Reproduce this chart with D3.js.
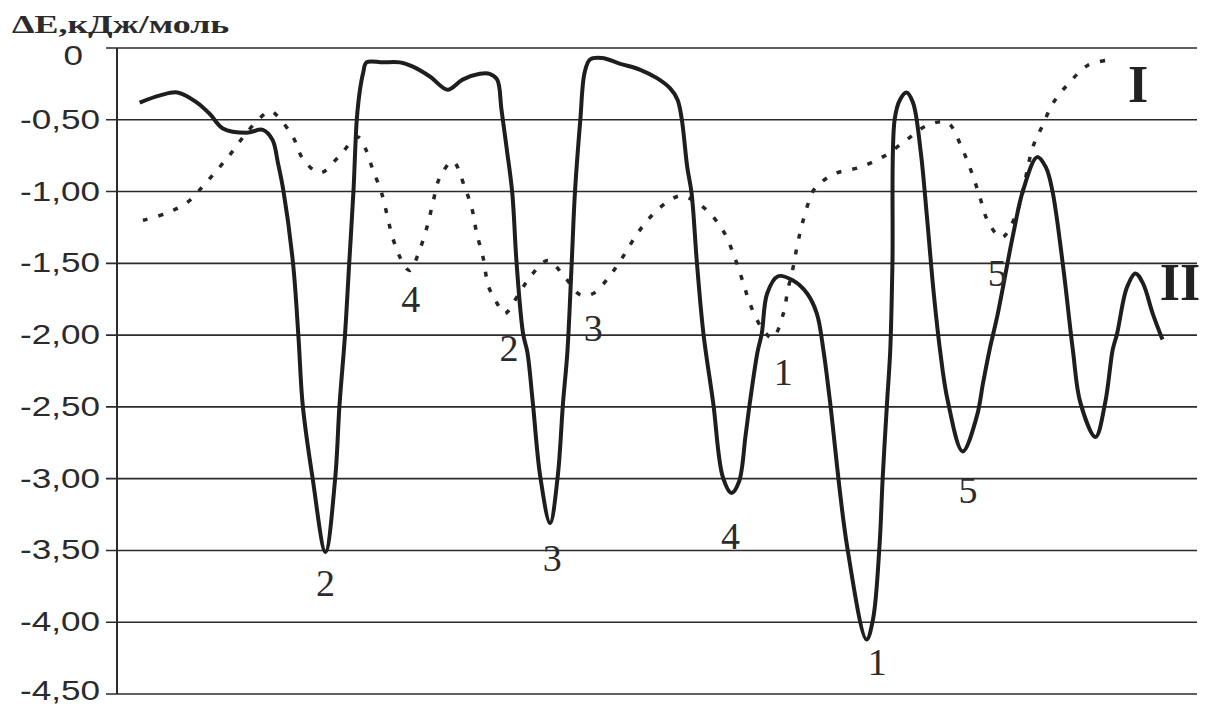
<!DOCTYPE html>
<html>
<head>
<meta charset="utf-8">
<script src="https://cdn.jsdelivr.net/npm/d3@7"></script>
<style>
    html, body { margin: 0; padding: 0; background: #fff; }
    svg { display: block; }
</style>
</head>
<body>
<svg id="chart" width="1209" height="708"></svg>
<script>
// шкала Y: значения ΔE, кДж/моль
var yTicks = [0, -0.5, -1.0, -1.5, -2.0, -2.5, -3.0, -3.5, -4.0, -4.5];
var yTickLabels = ["0", "-0,50", "-1,00", "-1,50", "-2,00", "-2,50", "-3,00", "-3,50", "-4,00", "-4,50"];

// кривая I (пунктир) — положение по оси X в условных единицах 0..100
var curveIx = [2.4, 4.6, 6.6, 8.1, 9.5, 10.7, 12.0, 13.5, 14.2, 14.8, 16.3, 17.2, 18.8, 20.5, 22.3, 23.0,
    23.7, 24.5, 25.6, 26.5, 27.1, 28.1, 28.8, 29.3, 29.9, 31.1, 32.2, 32.9, 33.3, 33.9, 34.4, 35.2,
    35.9, 37.3, 38.4, 39.9, 41.5, 42.9, 44.1, 45.6, 46.8, 48.2, 49.6, 51.2, 52.3, 54.3, 56.1, 57.2,
    58.0, 58.6, 59.7, 60.7, 61.7, 62.1, 62.6, 63.0, 63.5, 64.2, 64.6, 66.3, 68.8, 71.1, 73.1, 75.0,
    76.9, 78.3, 79.2, 79.9, 80.6, 81.9, 83.3, 84.8, 85.7, 86.7, 88.2, 89.9, 92.1];
var curveIy = [-1.20, -1.15, -1.07, -0.95, -0.83, -0.72, -0.59, -0.47, -0.44, -0.47, -0.62, -0.77, -0.87, -0.76, -0.62, -0.70,
    -0.85, -1.01, -1.34, -1.50, -1.55, -1.39, -1.22, -1.06, -0.90, -0.79, -0.97, -1.13, -1.29, -1.46, -1.66, -1.78,
    -1.85, -1.70, -1.58, -1.48, -1.60, -1.72, -1.71, -1.59, -1.46, -1.29, -1.16, -1.06, -1.03, -1.11, -1.27, -1.46,
    -1.64, -1.78, -1.95, -2.02, -1.85, -1.69, -1.53, -1.37, -1.21, -1.04, -0.98, -0.88, -0.83, -0.75, -0.64, -0.54,
    -0.52, -0.71, -0.88, -1.04, -1.20, -1.32, -1.15, -0.69, -0.54, -0.38, -0.24, -0.12, -0.08];

// кривая II (сплошная)
var curveIIx = [2.1, 4.0, 5.6, 7.4, 8.6, 9.8, 12.0, 13.5, 14.4, 14.9, 15.4, 16.3, 16.8, 17.2, 18.1, 19.3,
    20.2, 20.6, 21.1, 21.5, 21.9, 22.2, 22.5, 22.8, 23.1, 24.6, 26.2, 27.4, 29.0, 30.6, 32.0, 33.6,
    34.5, 35.2, 35.6, 36.1, 36.6, 37.0, 37.6, 38.0, 38.5, 39.2, 40.1, 40.8, 41.3, 41.7, 42.1, 42.4,
    42.9, 43.3, 43.8, 44.9, 46.6, 48.4, 50.0, 51.2, 51.9, 52.3, 52.8, 53.2, 53.7, 54.3, 55.2, 56.1,
    56.9, 57.6, 58.2, 58.6, 59.3, 59.7, 60.2, 61.2, 62.6, 63.9, 64.8, 65.4, 66.0, 67.6, 69.4, 70.0, 70.6,
    70.9, 71.3, 71.6, 71.8, 72.0, 72.5, 73.1, 73.7, 74.4, 75.0, 75.6, 76.2, 76.9, 78.3, 79.6, 80.2,
    80.8, 81.5, 83.0, 83.9, 85.2, 86.0, 86.6, 87.6, 88.5, 89.2, 90.6, 91.5, 92.2, 92.6, 93.5, 94.3,
    95.0, 95.9, 96.8];
var curveIIy = [-0.38, -0.33, -0.31, -0.38, -0.46, -0.56, -0.59, -0.57, -0.64, -0.80, -0.99, -1.50, -2.01, -2.49, -2.99, -3.51,
    -3.00, -2.49, -2.01, -1.50, -0.99, -0.50, -0.29, -0.17, -0.10, -0.10, -0.10, -0.13, -0.20, -0.29, -0.22, -0.18,
    -0.18, -0.22, -0.43, -0.71, -1.01, -1.50, -1.99, -2.12, -2.47, -2.99, -3.31, -2.99, -2.47, -2.12, -1.50, -1.01,
    -0.50, -0.17, -0.08, -0.07, -0.11, -0.15, -0.21, -0.28, -0.36, -0.50, -0.83, -1.01, -1.50, -1.99, -2.47, -2.99,
    -3.10, -3.02, -2.70, -2.47, -2.12, -1.99, -1.71, -1.59, -1.62, -1.71, -1.85, -2.10, -2.45, -3.47, -4.12, -3.98, -3.47,
    -2.99, -2.47, -2.10, -1.50, -0.50, -0.36, -0.31, -0.38, -0.71, -1.18, -1.69, -2.10, -2.45, -2.81, -2.57, -2.33,
    -2.10, -1.87, -1.29, -0.99, -0.76, -0.83, -0.99, -1.52, -2.10, -2.47, -2.71, -2.47, -2.10, -1.99, -1.67, -1.57,
    -1.64, -1.85, -2.03];

// номера минимумов
var labelsI = ["4", "2", "3", "1", "5"];
var labelsIx = [27.2, 36.3, 44.1, 61.7, 81.5];
var labelsIy = [-1.75, -2.09, -1.95, -2.26, -1.57];
var labelsII = ["2", "3", "4", "1", "5"];
var labelsIIx = [19.3, 40.3, 56.8, 70.4, 78.8];
var labelsIIy = [-3.73, -3.55, -3.40, -4.28, -3.08];

var svg = d3.select("#chart");

var x = d3.scaleLinear().domain([0, 100]).range([117, 1197]);
var y = d3.scaleLinear().domain([0, -4.5]).range([48, 694]);

function zip(xs, ys) {
    return xs.map(function (d, i) { return [d, ys[i]]; });
}

var line = d3.line()
    .x(function (d) { return x(d[0]); })
    .y(function (d) { return y(d[1]); })
    .curve(d3.curveCatmullRom.alpha(0.5));

// сетка
svg.append("g")
    .attr("class", "grid")
    .selectAll("line")
    .data(yTicks)
    .enter().append("line")
    .attr("x1", x(0) - 11)
    .attr("x2", x(100))
    .attr("y1", function (d) { return y(d); })
    .attr("y2", function (d) { return y(d); })
    .attr("stroke", "#2b2b2b")
    .attr("stroke-width", 1.6);

// ось Y
svg.append("line")
    .attr("x1", x(0)).attr("x2", x(0))
    .attr("y1", y(0)).attr("y2", y(-4.5))
    .attr("stroke", "#2b2b2b")
    .attr("stroke-width", 2);

svg.append("g")
    .selectAll("text")
    .data(yTicks)
    .enter().append("text")
    .attr("transform", function (d, i) {
        var tx = i == 0 ? 83 : 100;
        var ty = y(d) + (i == 0 ? 17 : (i == yTicks.length - 1 ? 6 : 9));
        return "translate(" + tx + "," + ty + ") scale(1.3,1)";
    })
    .attr("text-anchor", "end")
    .style("font-family", "'Liberation Sans', Arial, sans-serif")
    .style("font-size", "27px")
    .attr("fill", "#2b2b2b")
    .text(function (d, i) { return yTickLabels[i]; });

svg.append("text")
    .attr("transform", "translate(12,33) scale(1.38,1)")
    .style("font-family", "'Liberation Serif', 'Times New Roman', serif")
    .style("font-size", "26px")
    .style("font-weight", "bold")
    .attr("fill", "#2b2b2b")
    .text("ΔE,кДж/моль");

// кривые
svg.append("path")
    .datum(zip(curveIx, curveIy))
    .attr("d", line)
    .attr("fill", "none")
    .attr("stroke", "#262626")
    .attr("stroke-width", 3.5)
    .attr("stroke-dasharray", "5,11");

svg.append("path")
    .datum(zip(curveIIx, curveIIy))
    .attr("d", line)
    .attr("fill", "none")
    .attr("stroke", "#1e1e1e")
    .attr("stroke-width", 4)
    .attr("stroke-linejoin", "round");

function addLabels(texts, xs, ys) {
    svg.append("g")
        .selectAll("text")
        .data(texts)
        .enter().append("text")
        .attr("x", function (d, i) { return x(xs[i]); })
        .attr("y", function (d, i) { return y(ys[i]); })
        .attr("text-anchor", "middle")
        .attr("dominant-baseline", "central")
        .style("font-family", "'Liberation Serif', 'Times New Roman', serif")
        .style("font-size", "38px")
        .attr("fill", "#2b2b2b")
        .text(function (d) { return d; });
}
addLabels(labelsI, labelsIx, labelsIy);
addLabels(labelsII, labelsIIx, labelsIIy);

// обозначения кривых
svg.append("text")
    .attr("x", 1138).attr("y", 102)
    .attr("text-anchor", "middle")
    .style("font-family", "'Liberation Serif', 'Times New Roman', serif")
    .style("font-size", "52px")
    .style("font-weight", "bold")
    .attr("fill", "#222")
    .text("I");

svg.append("text")
    .attr("x", 1180).attr("y", 300)
    .attr("text-anchor", "middle")
    .style("font-family", "'Liberation Serif', 'Times New Roman', serif")
    .style("font-size", "52px")
    .style("font-weight", "bold")
    .attr("fill", "#222")
    .text("II");
</script>
</body>
</html>
